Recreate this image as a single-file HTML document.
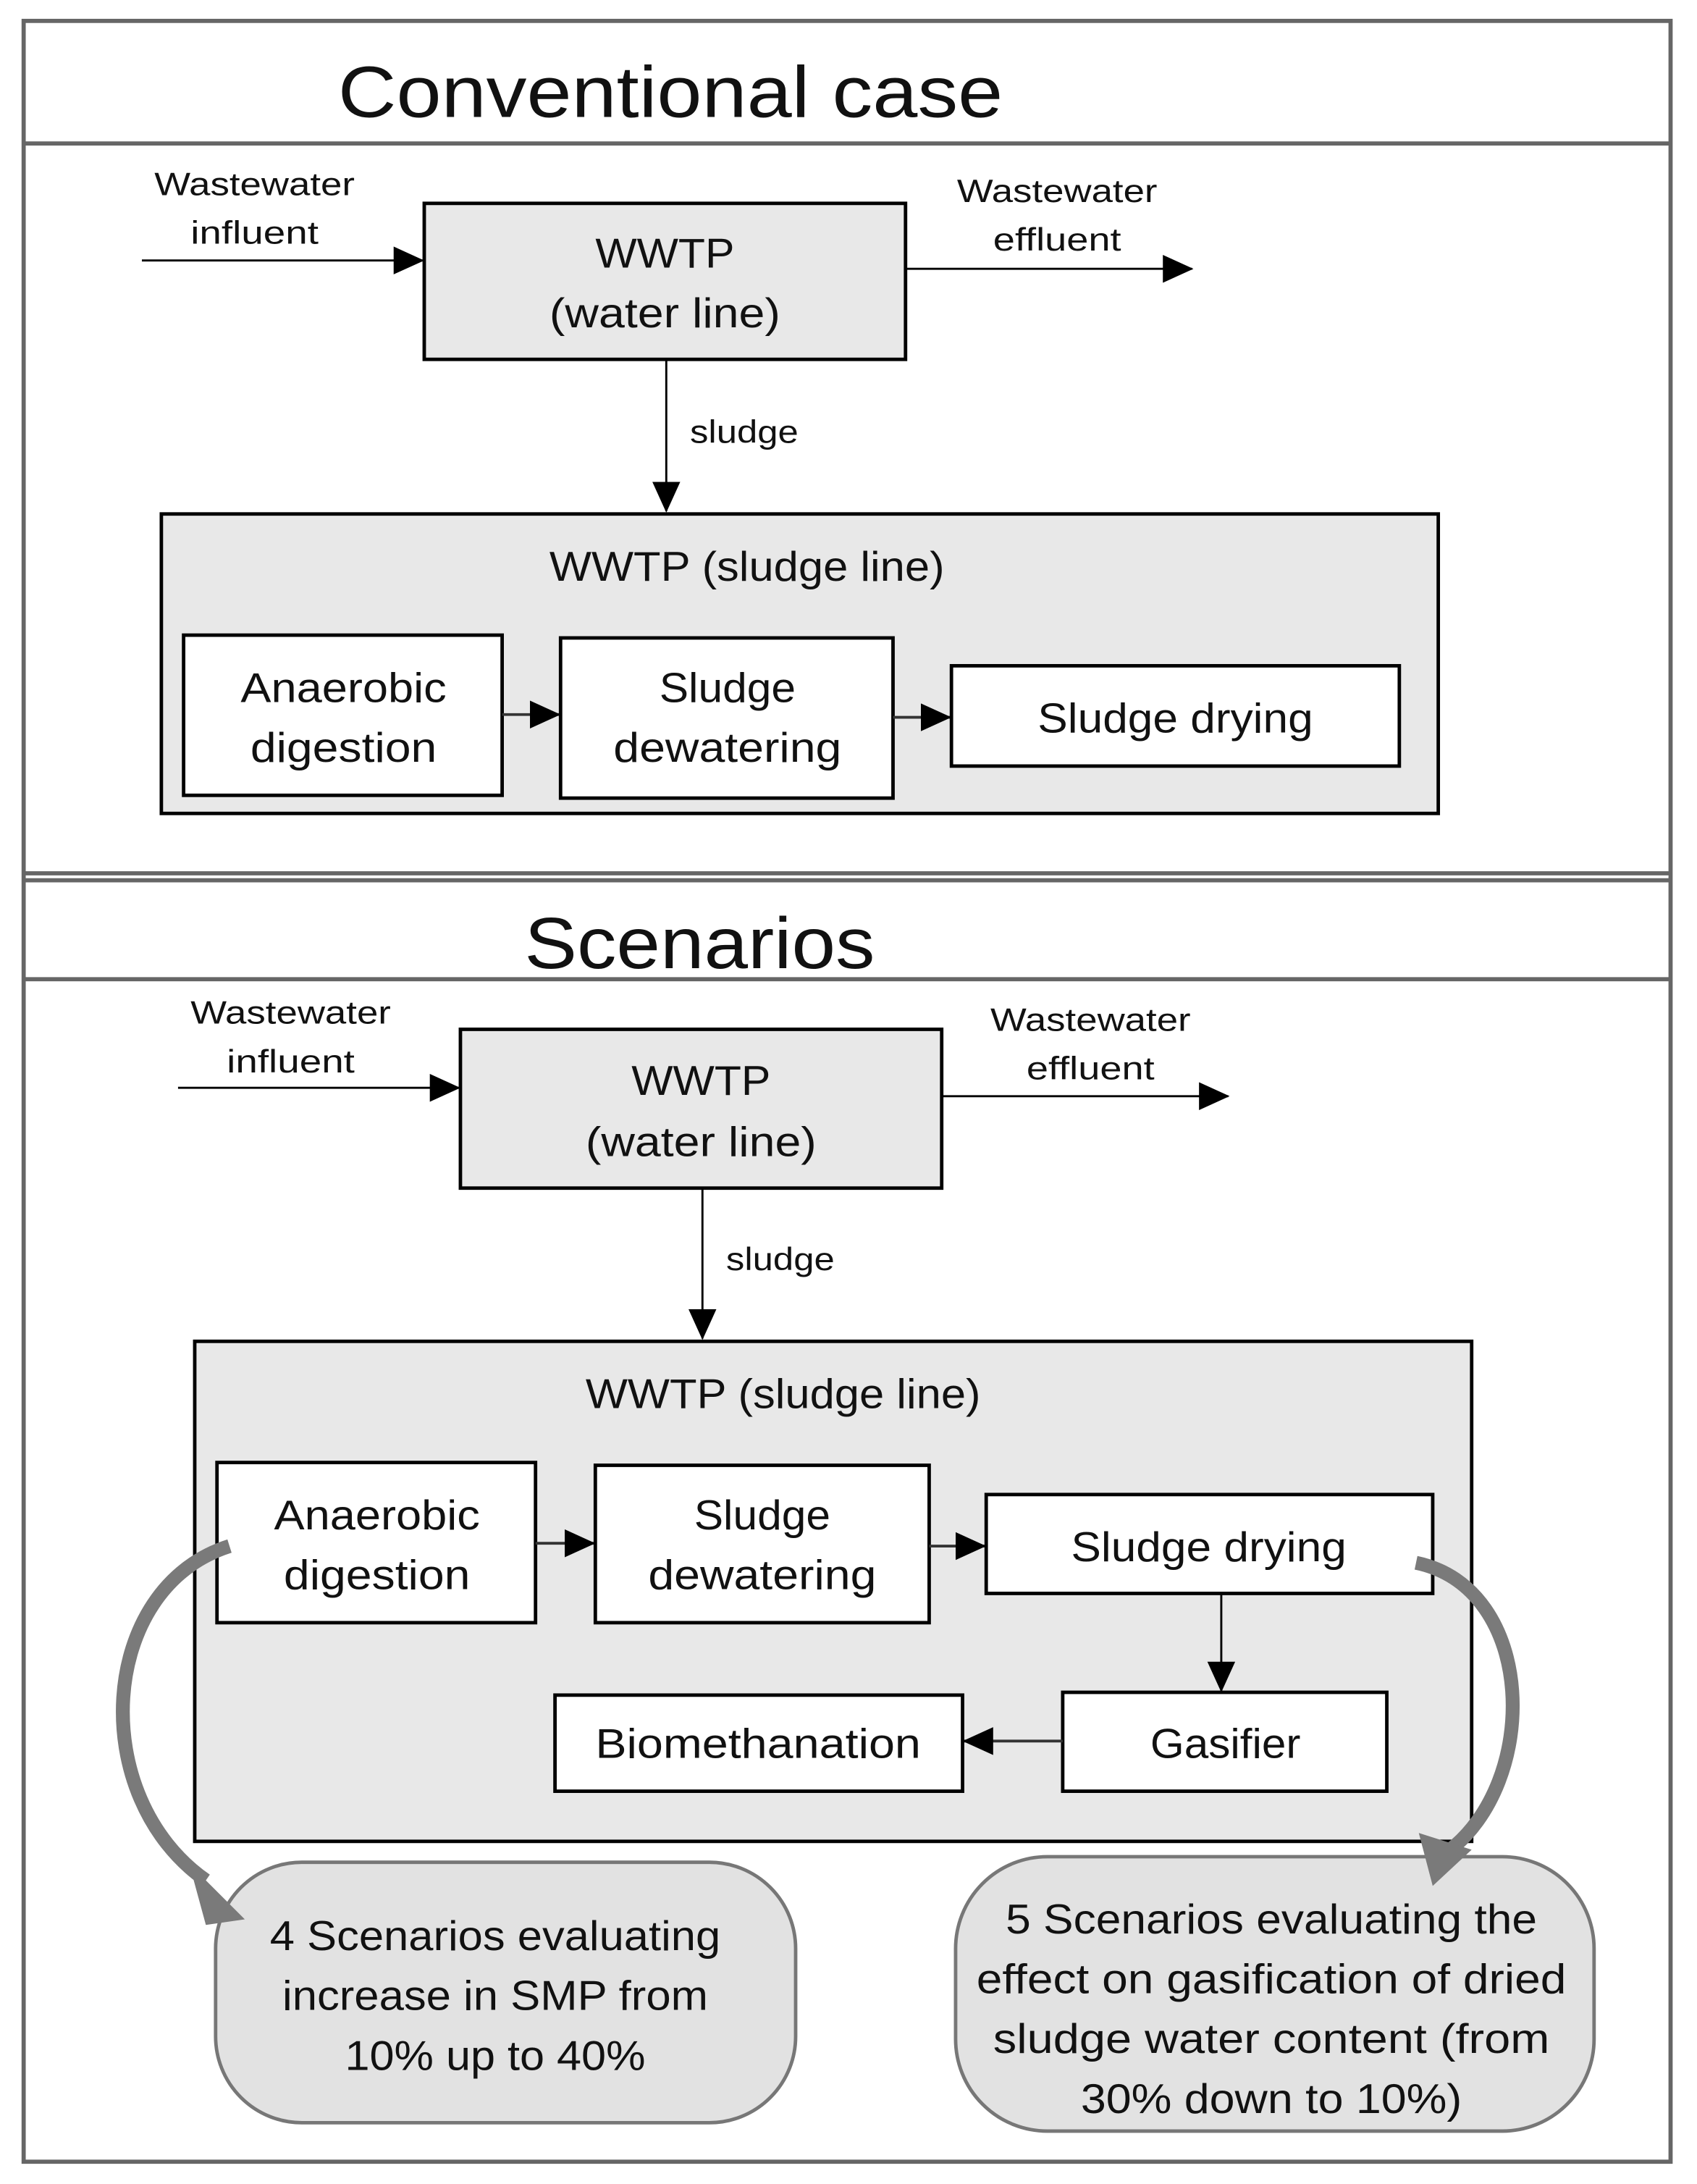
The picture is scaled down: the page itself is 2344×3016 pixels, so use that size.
<!DOCTYPE html>
<html><head><meta charset="utf-8"><style>
html,body{margin:0;padding:0;background:#fff;}
svg{display:block;}
text{font-family:"Liberation Sans",sans-serif;fill:#111;text-anchor:middle;}
</style></head><body>
<svg width="2344" height="3016" viewBox="0 0 1220 1568" preserveAspectRatio="none" xmlns="http://www.w3.org/2000/svg">
<defs>
<marker id="ahb" markerWidth="22" markerHeight="20" refX="21" refY="10" orient="auto" markerUnits="userSpaceOnUse"><path d="M0,0 L22,10 L0,20 Z" fill="#000"/></marker>
</defs>
<rect x="0" y="0" width="1220" height="1568" fill="#fff"/>
<rect x="17" y="15" width="1184" height="1537" fill="none" stroke="#666" stroke-width="3"/>
<line x1="17" y1="103" x2="1201" y2="103" stroke="#666" stroke-width="3"/>
<line x1="17" y1="627" x2="1201" y2="627" stroke="#666" stroke-width="3"/>
<line x1="17" y1="632" x2="1201" y2="632" stroke="#666" stroke-width="3"/>
<line x1="17" y1="703" x2="1201" y2="703" stroke="#666" stroke-width="3"/>
<text x="482" y="84" font-size="52" textLength="478" lengthAdjust="spacingAndGlyphs">Conventional case</text>
<text x="503" y="695" font-size="52" textLength="252" lengthAdjust="spacingAndGlyphs">Scenarios</text>

<text x="183" y="140" font-size="23" textLength="144" lengthAdjust="spacingAndGlyphs">Wastewater</text>
<text x="183" y="175" font-size="23" textLength="92" lengthAdjust="spacingAndGlyphs">influent</text>
<line x1="102" y1="187" x2="304" y2="187" stroke="#000" stroke-width="1.5" marker-end="url(#ahb)"/>
<rect x="305" y="146" width="346" height="112" fill="#e8e8e8" stroke="#000" stroke-width="2.5"/>
<text x="478" y="192" font-size="30" textLength="100" lengthAdjust="spacingAndGlyphs">WWTP</text>
<text x="478" y="235" font-size="30" textLength="166" lengthAdjust="spacingAndGlyphs">(water line)</text>
<line x1="651" y1="193" x2="857" y2="193" stroke="#000" stroke-width="1.5" marker-end="url(#ahb)"/>
<text x="760" y="145" font-size="23" textLength="144" lengthAdjust="spacingAndGlyphs">Wastewater</text>
<text x="760" y="180" font-size="23" textLength="92" lengthAdjust="spacingAndGlyphs">effluent</text>
<line x1="479" y1="258" x2="479" y2="367" stroke="#000" stroke-width="1.5" marker-end="url(#ahb)"/>
<text x="535" y="318" font-size="23" textLength="78" lengthAdjust="spacingAndGlyphs">sludge</text>
<rect x="116" y="369" width="918" height="215" fill="#e8e8e8" stroke="#000" stroke-width="2.5"/>
<text x="537" y="417" font-size="30" textLength="284" lengthAdjust="spacingAndGlyphs">WWTP (sludge line)</text>
<rect x="132" y="456" width="229" height="115" fill="#fff" stroke="#000" stroke-width="2.5"/>
<text x="247" y="504" font-size="30" textLength="148" lengthAdjust="spacingAndGlyphs">Anaerobic</text>
<text x="247" y="547" font-size="30" textLength="134" lengthAdjust="spacingAndGlyphs">digestion</text>
<line x1="361" y1="513" x2="402" y2="513" stroke="#333" stroke-width="2" marker-end="url(#ahb)"/>
<rect x="403" y="458" width="239" height="115" fill="#fff" stroke="#000" stroke-width="2.5"/>
<text x="523" y="504" font-size="30" textLength="98" lengthAdjust="spacingAndGlyphs">Sludge</text>
<text x="523" y="547" font-size="30" textLength="164" lengthAdjust="spacingAndGlyphs">dewatering</text>
<line x1="642" y1="515" x2="683" y2="515" stroke="#333" stroke-width="2" marker-end="url(#ahb)"/>
<rect x="684" y="478" width="322" height="72" fill="#fff" stroke="#000" stroke-width="2.5"/>
<text x="845" y="526" font-size="30" textLength="198" lengthAdjust="spacingAndGlyphs">Sludge drying</text>

<text x="209" y="735" font-size="23" textLength="144" lengthAdjust="spacingAndGlyphs">Wastewater</text>
<text x="209" y="770" font-size="23" textLength="92" lengthAdjust="spacingAndGlyphs">influent</text>
<line x1="128" y1="781" x2="330" y2="781" stroke="#000" stroke-width="1.5" marker-end="url(#ahb)"/>
<rect x="331" y="739" width="346" height="114" fill="#e8e8e8" stroke="#000" stroke-width="2.5"/>
<text x="504" y="786" font-size="30" textLength="100" lengthAdjust="spacingAndGlyphs">WWTP</text>
<text x="504" y="830" font-size="30" textLength="166" lengthAdjust="spacingAndGlyphs">(water line)</text>
<line x1="677" y1="787" x2="883" y2="787" stroke="#000" stroke-width="1.5" marker-end="url(#ahb)"/>
<text x="784" y="740" font-size="23" textLength="144" lengthAdjust="spacingAndGlyphs">Wastewater</text>
<text x="784" y="775" font-size="23" textLength="92" lengthAdjust="spacingAndGlyphs">effluent</text>
<line x1="505" y1="853" x2="505" y2="961" stroke="#000" stroke-width="1.5" marker-end="url(#ahb)"/>
<text x="561" y="912" font-size="23" textLength="78" lengthAdjust="spacingAndGlyphs">sludge</text>
<rect x="140" y="963" width="918" height="359" fill="#e8e8e8" stroke="#000" stroke-width="2.5"/>
<text x="563" y="1011" font-size="30" textLength="284" lengthAdjust="spacingAndGlyphs">WWTP (sludge line)</text>
<rect x="156" y="1050" width="229" height="115" fill="#fff" stroke="#000" stroke-width="2.5"/>
<text x="271" y="1098" font-size="30" textLength="148" lengthAdjust="spacingAndGlyphs">Anaerobic</text>
<text x="271" y="1141" font-size="30" textLength="134" lengthAdjust="spacingAndGlyphs">digestion</text>
<line x1="385" y1="1108" x2="427" y2="1108" stroke="#333" stroke-width="2" marker-end="url(#ahb)"/>
<rect x="428" y="1052" width="240" height="113" fill="#fff" stroke="#000" stroke-width="2.5"/>
<text x="548" y="1098" font-size="30" textLength="98" lengthAdjust="spacingAndGlyphs">Sludge</text>
<text x="548" y="1141" font-size="30" textLength="164" lengthAdjust="spacingAndGlyphs">dewatering</text>
<line x1="668" y1="1110" x2="708" y2="1110" stroke="#333" stroke-width="2" marker-end="url(#ahb)"/>
<rect x="709" y="1073" width="321" height="71" fill="#fff" stroke="#000" stroke-width="2.5"/>
<text x="869" y="1121" font-size="30" textLength="198" lengthAdjust="spacingAndGlyphs">Sludge drying</text>
<line x1="878" y1="1144" x2="878" y2="1214" stroke="#000" stroke-width="1.5" marker-end="url(#ahb)"/>
<rect x="764" y="1215" width="233" height="71" fill="#fff" stroke="#000" stroke-width="2.5"/>
<text x="881" y="1262" font-size="30" textLength="108" lengthAdjust="spacingAndGlyphs">Gasifier</text>
<line x1="764" y1="1250" x2="693" y2="1250" stroke="#333" stroke-width="2" marker-end="url(#ahb)"/>
<rect x="399" y="1217" width="293" height="69" fill="#fff" stroke="#000" stroke-width="2.5"/>
<text x="545" y="1262" font-size="30" textLength="234" lengthAdjust="spacingAndGlyphs">Biomethanation</text>

<rect x="155" y="1337" width="417" height="187" rx="62" fill="#e2e2e2" stroke="#777" stroke-width="2.5"/>
<text x="356" y="1400" font-size="30" textLength="324" lengthAdjust="spacingAndGlyphs">4 Scenarios evaluating</text>
<text x="356" y="1443" font-size="30" textLength="306" lengthAdjust="spacingAndGlyphs">increase in SMP from</text>
<text x="356" y="1486" font-size="30" textLength="216" lengthAdjust="spacingAndGlyphs">10% up to 40%</text>
<rect x="687" y="1333" width="459" height="197" rx="66" fill="#e2e2e2" stroke="#777" stroke-width="2.5"/>
<text x="914" y="1388" font-size="30" textLength="382" lengthAdjust="spacingAndGlyphs">5 Scenarios evaluating the</text>
<text x="914" y="1431" font-size="30" textLength="424" lengthAdjust="spacingAndGlyphs">effect on gasification of dried</text>
<text x="914" y="1474" font-size="30" textLength="400" lengthAdjust="spacingAndGlyphs">sludge water content (from</text>
<text x="914" y="1517" font-size="30" textLength="274" lengthAdjust="spacingAndGlyphs">30% down to 10%)</text>

<path d="M165,1110 C70,1140 62,1290 148,1350" fill="none" stroke="#7a7a7a" stroke-width="10"/>
<path d="M136,1338 L176,1378 L148,1382 Z" fill="#7a7a7a"/>
<path d="M1018,1122 C1105,1140 1108,1280 1040,1330" fill="none" stroke="#7a7a7a" stroke-width="10"/>
<path d="M1020,1316 L1058,1328 L1030,1354 Z" fill="#7a7a7a"/>
</svg>
</body></html>
